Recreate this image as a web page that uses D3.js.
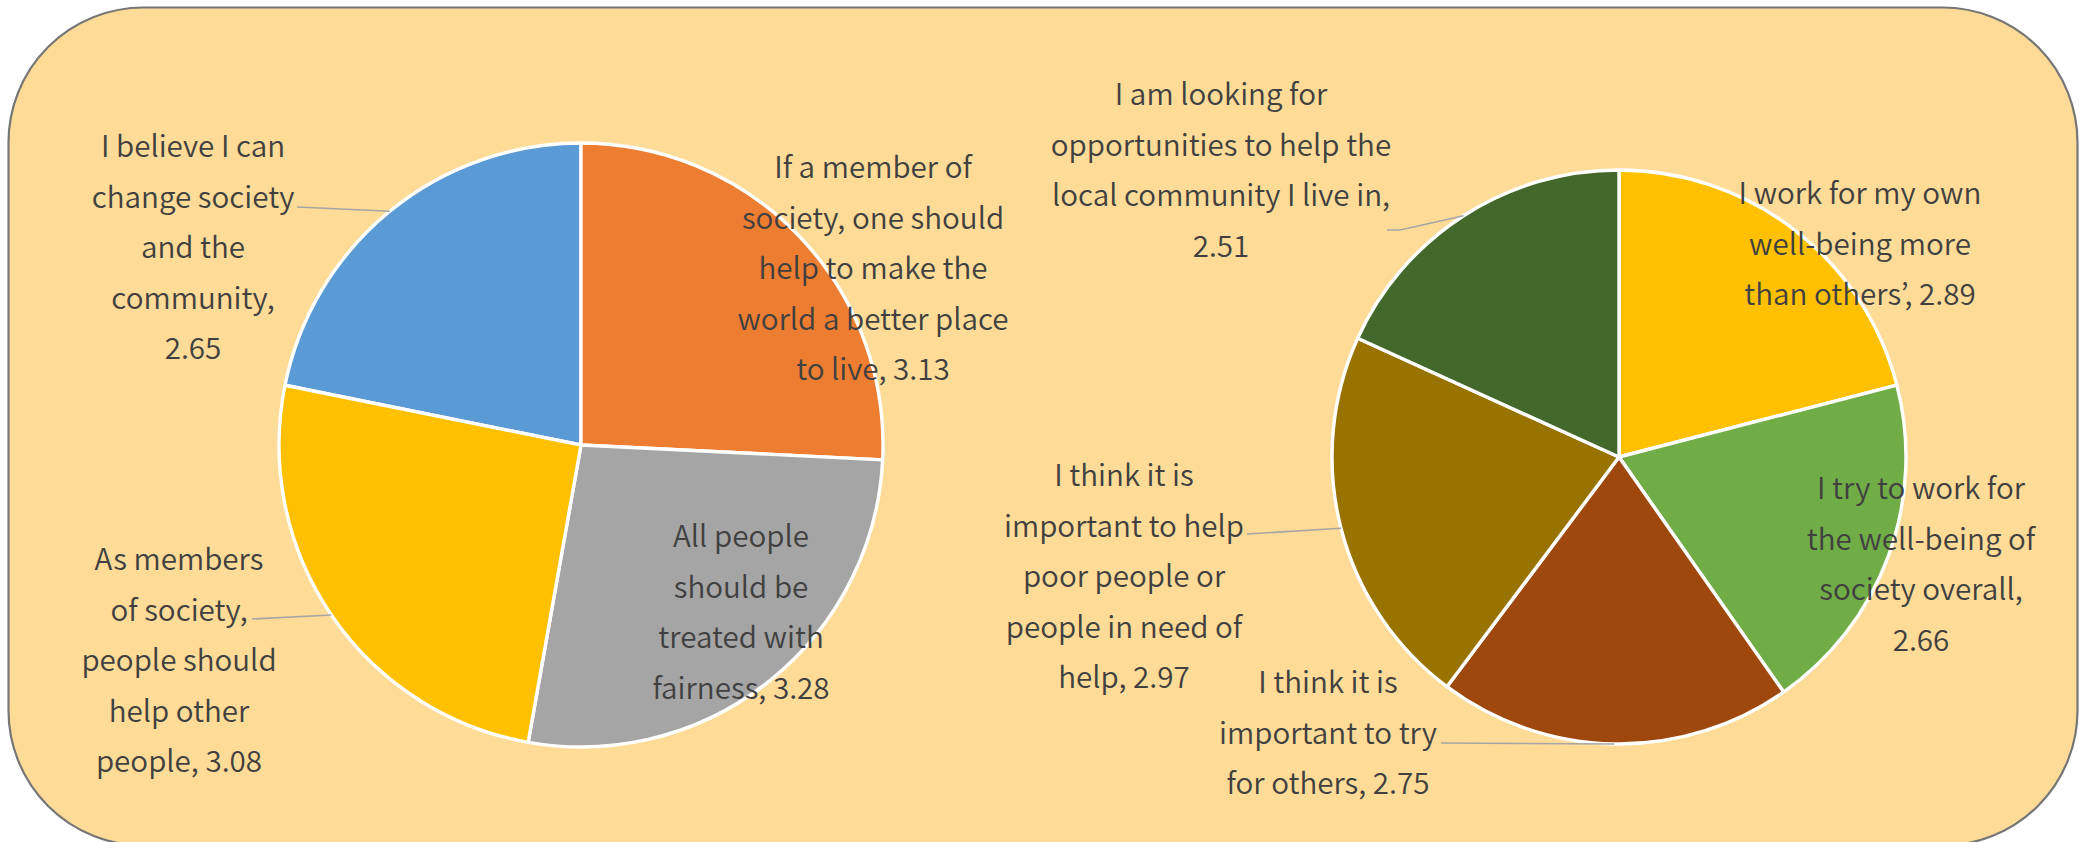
<!DOCTYPE html>
<html>
<head>
<meta charset="utf-8">
<script src="https://cdn.jsdelivr.net/npm/d3@7"></script>
<style>
  html, body { margin: 0; padding: 0; background: #ffffff; }
  svg { display: block; }
</style>
</head>
<body>
<svg id="chart" width="2079" height="842"></svg>
<script>
// ---- Data: left pie ----
const leftCategories = [
  "I believe I can change society and the community",
  "If a member of society, one should help to make the world a better place to live",
  "All people should be treated with fairness",
  "As members of society, people should help other people"
];
const leftValues = [2.65, 3.13, 3.28, 3.08];
const leftLabelLines = [
  ["I believe I can", "change society", "and the", "community,", "{v}"],
  ["If a member of", "society, one should", "help to make the", "world a better place", "to live, {v}"],
  ["All people", "should be", "treated with", "fairness, {v}"],
  ["As members", "of society,", "people should", "help other", "people, {v}"]
];

// ---- Data: right pie ----
const rightCategories = [
  "I work for my own well-being more than others'",
  "I try to work for the well-being of society overall",
  "I think it is important to try for others",
  "I think it is important to help poor people or people in need of help",
  "I am looking for opportunities to help the local community I live in"
];
const rightValues = [2.89, 2.66, 2.75, 2.97, 2.51];
const rightLabelLines = [
  ["I work for my own", "well-being more", "than others\u2019, {v}"],
  ["I try to work for", "the well-being of", "society overall,", "{v}"],
  ["I think it is", "important to try", "for others, {v}"],
  ["I think it is", "important to help", "poor people or", "people in need of", "help, {v}"],
  ["I am looking for", "opportunities to help the", "local community I live in,", "{v}"]
];

// ---- Styling / layout ----
const leftColors = ["#5B9BD5", "#ED7D31", "#A5A5A5", "#FFC000"];
const rightColors = ["#FFC000", "#70AD47", "#9E480E", "#997300", "#43682B"];
const textColor = "#404040";
const fontSize = 29.6;
const lineGap = 50.5;

const svg = d3.select("#chart");

// panel background
svg.append("rect")
  .attr("x", 8.5).attr("y", 7.5)
  .attr("width", 2069).attr("height", 838)
  .attr("rx", 135).attr("ry", 135)
  .attr("fill", "#FEDB97")
  .attr("stroke", "#767676")
  .attr("stroke-width", 2.2);

const fmt = d3.format(".2f");

// label placement: centre x, first baseline, optional leader start (and elbow)
const leftLabelPos = [
  { x: 193, y: 157, leader: [[297, 207]] },
  { x: 873, y: 178 },
  { x: 741, y: 547 },
  { x: 179, y: 570, leader: [[252, 619]] }
];
const rightLabelPos = [
  { x: 1860, y: 204 },
  { x: 1921, y: 499 },
  { x: 1328, y: 693, leader: [[1441, 743]] },
  { x: 1124, y: 486, leader: [[1247, 534]] },
  { x: 1221, y: 105, leader: [[1387, 230], [1400, 230]] }
];

function drawPie(cfg) {
  const total = d3.sum(cfg.values);
  const start = cfg.firstSliceOffset ? -2 * Math.PI * cfg.values[0] / total : 0;
  const pie = d3.pie().sort(null).value(d => d).startAngle(start).endAngle(start + 2 * Math.PI);
  const arcs = pie(cfg.values);
  const arc = d3.arc().innerRadius(0).outerRadius(cfg.r);
  const edge = d3.arc().innerRadius(cfg.r).outerRadius(cfg.r);

  const g = svg.append("g").attr("transform", `translate(${cfg.cx},${cfg.cy})`);
  g.selectAll("path.slice")
    .data(arcs)
    .join("path")
    .attr("class", "slice")
    .attr("d", arc)
    .attr("fill", (d, i) => cfg.colors[i])
    .attr("stroke", "#ffffff")
    .attr("stroke-width", 3.4)
    .attr("stroke-linejoin", "round");

  // leader lines from label to the middle of each slice's rim
  arcs.forEach((a, i) => {
    const pos = cfg.labelPos[i];
    if (!pos.leader) return;
    const c = edge.centroid(a);
    const pts = pos.leader.map(p => [p[0], p[1]]);
    pts.push([c[0] + cfg.cx, c[1] + cfg.cy]);
    svg.append("path")
      .attr("d", d3.line()(pts))
      .attr("fill", "none")
      .attr("stroke", "#A6A6A6")
      .attr("stroke-width", 1.6);
  });

  // data labels
  arcs.forEach((a, i) => {
    const pos = cfg.labelPos[i];
    const t = svg.append("text")
      .attr("text-anchor", "middle")
      .attr("font-family", "'Noto Sans CJK KR', 'Noto Sans', sans-serif")
      .attr("font-size", fontSize)
      .attr("font-weight", 350)
      .attr("fill", textColor);
    cfg.lines[i].forEach((ln, k) => {
      t.append("tspan")
        .attr("x", pos.x)
        .attr("y", pos.y + k * lineGap)
        .text(ln.replace("{v}", fmt(cfg.values[i])));
    });
  });
}

drawPie({
  values: leftValues, colors: leftColors, lines: leftLabelLines, labelPos: leftLabelPos,
  cx: 581, cy: 445, r: 302, firstSliceOffset: true
});
drawPie({
  values: rightValues, colors: rightColors, lines: rightLabelLines, labelPos: rightLabelPos,
  cx: 1619, cy: 457, r: 287, firstSliceOffset: false
});
</script>
</body>
</html>
